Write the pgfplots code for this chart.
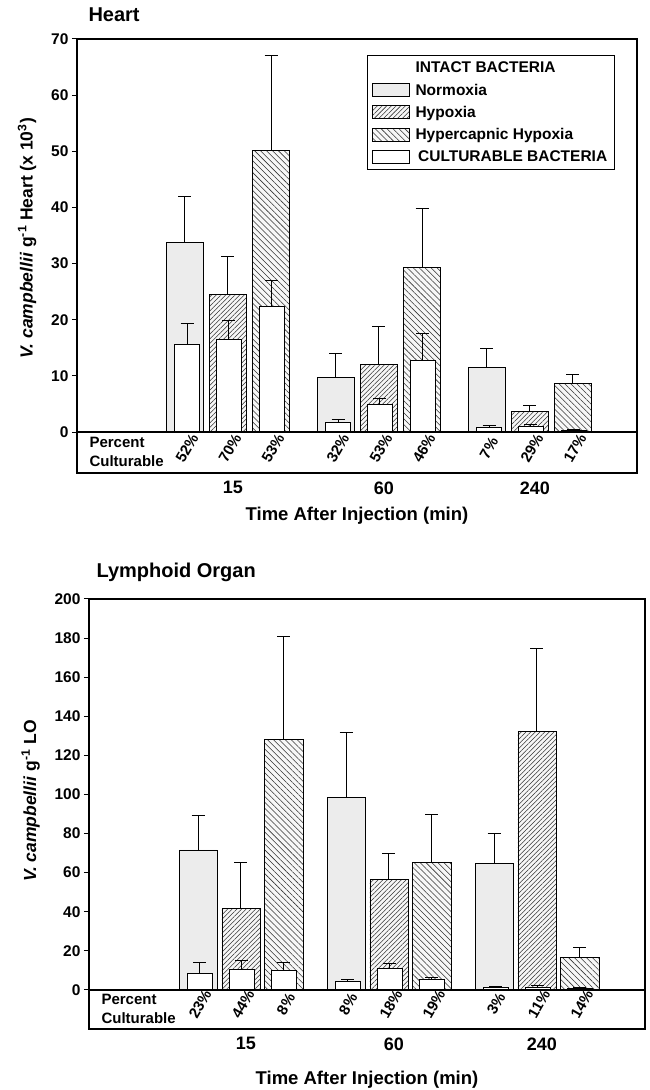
\documentclass[border=0pt]{standalone}
\usepackage{fontspec}
\setmainfont{Liberation Sans}
\usepackage{pgfplots}
\pgfplotsset{compat=1.18}
\usetikzlibrary{patterns.meta}
\newcommand{\fs}[1]{\fontsize{#1}{#1}\selectfont}

\pgfplotsset{
  mylegend/.style={legend image code/.code={\draw[##1] (0pt,-6.5pt) rectangle (37pt,6.5pt);}},
  mybase/.style={
    scale only axis, clip=false,
    axis line style={line width=1.2pt},
    tick align=outside, ytick pos=left,
    xtick={0,1,2}, xticklabels={15,60,240},
    x tick style={draw=none},
    major tick length=5pt, y tick style={line width=1pt, black},
    /pgf/number format/assume math mode=true,
    yticklabel style={font=\fs{15.5}\bfseries},
    xticklabel style={font=\fs{18}\bfseries, xshift=5pt},
    xlabel style={font=\fs{18.5}\bfseries, yshift=-6pt},
    ylabel style={font=\fs{17.5}\bfseries},
    title style={font=\fs{20}\bfseries, at={(0,1)}, anchor=base west},
    ybar,
    error bars/y dir=plus, error bars/y explicit,
    error bars/error bar style={line width=1pt, black},
    error bars/error mark options={rotate=90, mark size=6.5pt, line width=1pt, black},
    legend cell align=left,
    legend style={font=\fs{15.5}\bfseries, draw=black, line width=0.8pt,
      inner xsep=5pt, inner ysep=4pt, row sep=4.5pt, column sep=3pt,
      nodes={inner sep=2.5pt}},
  },
  normox/.style={mylegend, fill=gray!15, draw=black, line width=0.8pt},
  hypox/.style={mylegend, fill=gray!6, draw=black, line width=0.8pt,
    postaction={pattern={Lines[angle=45,distance=3.3pt,line width=0.55pt]}, pattern color=black!80}},
  hyperc/.style={mylegend, fill=gray!6, draw=black, line width=0.8pt,
    postaction={pattern={Lines[angle=-45,distance=4.2pt,line width=0.55pt]}, pattern color=black!80}},
  cult/.style={mylegend, fill=white, draw=black, line width=0.8pt},
}

\begin{document}
\begin{tikzpicture}
\path[use as bounding box] (0pt,0pt) rectangle (649pt,1090pt);

% ---------------- Heart ----------------
\begin{axis}[mybase,
  at={(77pt,617pt)}, anchor=south west,
  width=560pt, height=434pt,
  xmin=-1.0, xmax=2.709, ymin=-7.3, ymax=70,
  ytick={0,10,...,70},
  title={Heart}, title style={xshift=8pt, yshift=11pt},
  xlabel={Time After Injection (min)},
  ylabel={\textit{V. campbellii} g\textsuperscript{-1} Heart (x 10\textsuperscript{3})},
  ylabel style={at={(ticklabel cs:0.541)}, anchor=south, yshift=8pt},
  legend style={at={(axis description cs:0.961,0.963)}, anchor=north east},
]
\addlegendimage{empty legend}
\addlegendentry{INTACT BACTERIA}
\addplot[normox, bar width=0.25, bar shift=-0.285] table[x=x, y=y, y error=e] {
x y e
0 33.7 8.3
1 9.7 4.2
2 11.5 3.4
};
\addlegendentry{Normoxia}
\addplot[hypox, bar width=0.25, bar shift=0] table[x=x, y=y, y error=e] {
x y e
0 24.5 6.7
1 12.0 6.8
2 3.6 1.2
};
\addlegendentry{Hypoxia}
\addplot[hyperc, bar width=0.25, bar shift=0.285] table[x=x, y=y, y error=e] {
x y e
0 50.2 16.9
1 29.3 10.5
2 8.6 1.7
};
\addlegendentry{Hypercapnic Hypoxia}
\addplot[cult, bar width=0.165, bar shift=-0.27] table[x=x, y=y, y error=e] {
x y e
0 15.6 3.7
1 1.7 0.6
2 0.8 0.3
};
\addlegendentry{\,CULTURABLE BACTERIA}
\addplot[cult, forget plot, bar width=0.165, bar shift=0.005] table[x=x, y=y, y error=e] {
x y e
0 16.5 3.4
1 4.9 1.1
2 1.0 0.4
};
\addplot[cult, forget plot, bar width=0.165, bar shift=0.29] table[x=x, y=y, y error=e] {
x y e
0 22.4 4.6
1 12.7 4.8
2 0.3 0.2
};
\draw[line width=1.2pt] (axis cs:-1.0,0) -- (axis cs:2.709,0);
\node[anchor=west, align=left, font=\fontsize{15}{19}\selectfont\bfseries] at (axis cs:-1.0,-3.6) [xshift=9pt] {Percent\\Culturable};
\begin{scope}[every node/.style={rotate=60, font=\fs{15}\bfseries, xshift=4pt, inner sep=1pt}]
\node at (axis cs:-0.285,-3.5) {52\%};
\node at (axis cs:0,-3.5) {70\%};
\node at (axis cs:0.285,-3.5) {53\%};
\node at (axis cs:0.715,-3.5) {32\%};
\node at (axis cs:1,-3.5) {53\%};
\node at (axis cs:1.285,-3.5) {46\%};
\node at (axis cs:1.715,-3.5) {7\%};
\node at (axis cs:2,-3.5) {29\%};
\node at (axis cs:2.285,-3.5) {17\%};
\end{scope}
\end{axis}

% ---------------- Lymphoid Organ ----------------
\begin{axis}[mybase,
  at={(89pt,61pt)}, anchor=south west,
  width=556pt, height=430pt,
  xmin=-1.027, xmax=2.73, ymin=-20, ymax=200,
  ytick={0,20,...,200},
  title={Lymphoid Organ}, title style={xshift=4pt, yshift=15pt},
  xlabel={Time After Injection (min)},
  xlabel style={yshift=-8pt},
  ylabel={\textit{V. campbellii} g\textsuperscript{-1} LO},
  ylabel style={at={(ticklabel cs:0.53)}, anchor=south, yshift=8pt},
]
\addplot[normox, bar width=0.257, bar shift=-0.29] table[x=x, y=y, y error=e] {
x y e
0 71.6 17.4
1 98.5 33.1
2 64.5 15.6
};
\addplot[hypox, bar width=0.257, bar shift=0] table[x=x, y=y, y error=e] {
x y e
0 41.5 23.9
1 56.5 13.3
2 132.3 42.2
};
\addplot[hyperc, bar width=0.257, bar shift=0.29] table[x=x, y=y, y error=e] {
x y e
0 128.2 52.6
1 65.2 24.4
2 16.4 5.3
};
\addplot[cult, bar width=0.17, bar shift=-0.28] table[x=x, y=y, y error=e] {
x y e
0 8.5 5.4
1 4.1 1.2
2 1.5 0.3
};
\addplot[cult, bar width=0.17, bar shift=0.005] table[x=x, y=y, y error=e] {
x y e
0 10.7 4.1
1 11.2 2.2
2 1.5 0.5
};
\addplot[cult, bar width=0.17, bar shift=0.29] table[x=x, y=y, y error=e] {
x y e
0 9.8 4.1
1 5.3 1.3
2 1.0 0.3
};
\draw[line width=1.2pt] (axis cs:-1.027,0) -- (axis cs:2.73,0);
\node[anchor=west, align=left, font=\fontsize{15}{19}\selectfont\bfseries] at (axis cs:-1.027,-9.7) [xshift=9pt] {Percent\\Culturable};
\begin{scope}[every node/.style={rotate=60, font=\fs{15}\bfseries, xshift=4pt, inner sep=1pt}]
\node at (axis cs:-0.29,-9) {23\%};
\node at (axis cs:0,-9) {44\%};
\node at (axis cs:0.29,-9) {8\%};
\node at (axis cs:0.71,-9) {8\%};
\node at (axis cs:1,-9) {18\%};
\node at (axis cs:1.29,-9) {19\%};
\node at (axis cs:1.71,-9) {3\%};
\node at (axis cs:2,-9) {11\%};
\node at (axis cs:2.29,-9) {14\%};
\end{scope}
\end{axis}
\end{tikzpicture}
\end{document}
